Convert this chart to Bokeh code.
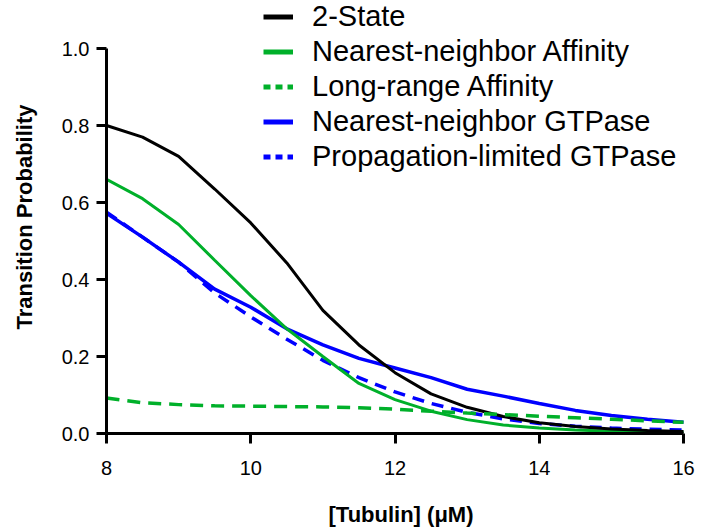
from bokeh.plotting import figure
from bokeh.models import Range1d, Legend, LegendItem, FixedTicker, PrintfTickFormatter, ColumnDataSource
from bokeh.embed import file_html
from bokeh.resources import INLINE

# ---- data ----
tubulin = [8, 8.5, 9, 9.5, 10, 10.5, 11, 11.5, 12, 12.5, 13, 13.5, 14, 14.5, 15, 15.5, 16]
two_state = [0.80, 0.77, 0.72, 0.635, 0.547, 0.443, 0.32, 0.23, 0.158, 0.103, 0.068, 0.044, 0.028, 0.018, 0.012, 0.008, 0.005]
nn_affinity = [0.66, 0.61, 0.543, 0.45, 0.358, 0.272, 0.20, 0.13, 0.088, 0.058, 0.036, 0.022, 0.014, 0.009, 0.006, 0.004, 0.003]
lr_affinity = [0.092, 0.08, 0.075, 0.072, 0.071, 0.070, 0.069, 0.067, 0.063, 0.058, 0.053, 0.049, 0.045, 0.041, 0.037, 0.033, 0.029]
nn_gtpase = [0.572, 0.51, 0.445, 0.375, 0.328, 0.272, 0.23, 0.195, 0.17, 0.145, 0.115, 0.097, 0.078, 0.06, 0.047, 0.037, 0.029]
pl_gtpase = [0.575, 0.51, 0.445, 0.365, 0.303, 0.245, 0.19, 0.145, 0.108, 0.078, 0.055, 0.038, 0.026, 0.019, 0.014, 0.011, 0.009]

series_names = ["2-State", "Nearest-neighbor Affinity", "Long-range Affinity",
                "Nearest-neighbor GTPase", "Propagation-limited GTPase"]
x_ticks = [8, 10, 12, 14, 16]
y_ticks = [0.0, 0.2, 0.4, 0.6, 0.8, 1.0]
x_label = "[Tubulin] (\u03bcM)"
y_label = "Transition Probability"

BLACK = "#000000"
GREEN = "#00b02a"
BLUE = "#0000ff"
FONT = "Liberation Sans"

src = ColumnDataSource(dict(x=tubulin, two=two_state, nna=nn_affinity, lra=lr_affinity,
                            nng=nn_gtpase, plg=pl_gtpase))

p = figure(width=702, height=529,
           x_range=Range1d(8, 16.166), y_range=Range1d(0, 1.1247),
           min_border_left=106, min_border_right=7, min_border_top=0, min_border_bottom=96,
           output_backend="svg", toolbar_location=None)
p.outline_line_color = None
p.xgrid.visible = False
p.ygrid.visible = False
p.background_fill_color = "white"
p.border_fill_color = "white"

# curves
p.line("x", "plg", source=src, line_color=BLUE, line_width=3.5, line_dash="12 8")
p.line("x", "nng", source=src, line_color=BLUE, line_width=3.5)
p.line("x", "nna", source=src, line_color=GREEN, line_width=3)
p.line("x", "two", source=src, line_color=BLACK, line_width=3)
p.line("x", "lra", source=src, line_color=GREEN, line_width=3.5, line_dash="13 8")

# legend proxies (NaN data, never visible in the plot) so legend samples match the reference style
nan = float("nan")
proxy = ColumnDataSource(dict(x=[nan, nan], y=[nan, nan]))
styles = [(BLACK, None), (GREEN, None), (GREEN, "7 5"), (BLUE, None), (BLUE, "7 5")]
items = []
for name, (col, dash) in zip(series_names, styles):
    kw = dict(line_color=col, line_width=5)
    if dash:
        kw["line_dash"] = dash
    r = p.line("x", "y", source=proxy, **kw)
    items.append(LegendItem(label=name, renderers=[r]))

legend = Legend(items=items, location=(157, 260), orientation="vertical",
                label_text_font=FONT, label_text_font_size="29px", label_text_color=BLACK,
                glyph_width=30, glyph_height=33, label_height=33, spacing=2,
                padding=0, margin=0, label_standoff=19,
                border_line_alpha=0, background_fill_alpha=0)
p.add_layout(legend)

# axes
for ax in (p.xaxis[0], p.yaxis[0]):
    ax.axis_line_width = 3
    ax.axis_line_color = BLACK
    ax.major_tick_line_width = 3
    ax.major_tick_line_color = BLACK
    ax.major_tick_out = 10
    ax.major_tick_in = 0
    ax.minor_tick_line_color = None
    ax.major_label_text_font = FONT
    ax.major_label_text_font_size = "20px"
    ax.major_label_text_color = BLACK
    ax.axis_label_text_font = FONT
    ax.axis_label_text_font_size = "22px"
    ax.axis_label_text_font_style = "bold"
    ax.axis_label_text_color = BLACK

p.xaxis[0].ticker = FixedTicker(ticks=x_ticks)
p.xaxis[0].bounds = (8, 16)
p.xaxis[0].axis_label = x_label
p.xaxis[0].major_label_standoff = 17
p.xaxis[0].axis_label_standoff = 24

p.yaxis[0].ticker = FixedTicker(ticks=y_ticks)
p.yaxis[0].formatter = PrintfTickFormatter(format="%.1f")
p.yaxis[0].bounds = (0, 1)
p.yaxis[0].axis_label = y_label
p.yaxis[0].major_label_standoff = 7
p.yaxis[0].axis_label_standoff = 22

open("out.html", "w").write(file_html(p, INLINE))
